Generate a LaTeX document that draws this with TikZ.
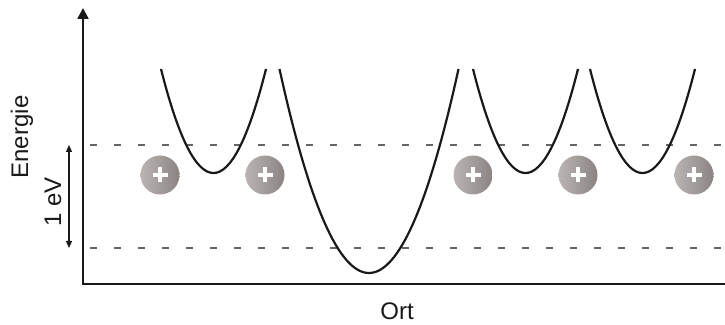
\documentclass[tikz,border=0pt]{standalone}
\usepackage{fontspec}
\setmainfont{Liberation Sans}
\usepackage{xcolor}
\usetikzlibrary{arrows.meta,positioning}

\definecolor{ionlight}{HTML}{BAB5B3}
\definecolor{iondark}{HTML}{8A8382}

\begin{document}
\begin{tikzpicture}[x=1pt, y=1pt,
  axis/.style={line width=2.5pt, black!90},
  level/.style={black!60, line width=1.1pt, dash pattern=on 7pt off 17pt},
  well/.style={line width=2.2pt, black!90},
  ion/.style={circle, minimum size=39pt, inner sep=0pt,
    left color=ionlight, right color=iondark},
  plus/.style={white, line width=4.8pt},
  lbl/.style={font=\fontsize{24}{28}\selectfont, text=black!90},
  arrow/.style={{Triangle[length=7pt,width=6pt]}-{Triangle[length=7pt,width=6pt]}, line width=1.2pt, black!90},
]
  \useasboundingbox (0,0) rectangle (725,324);

  % axes
  \coordinate (origin) at (83,40);
  \coordinate (ytip) at (83,316);
  \coordinate (xend) at (725,40);
  \draw[axis, {Triangle[length=11pt,width=11pt]}-] (ytip) -- (origin) -- (xend);

  % energy levels
  \coordinate (upL) at (90,179);
  \coordinate (upR) at (725,179);
  \coordinate (loL) at (90,76);
  \coordinate (loR) at (725,76);
  \draw[level] (upL) -- (upR);
  \draw[level] (loL) -- (loR);

  % potential wells
  \draw[well] (161,255) .. controls (196,116.3) and (231,116.3) .. (266,255);
  \draw[well] (279.5,255) .. controls (339.2,-17) and (398.8,-17) .. (458.5,255);
  \draw[well] (473,255) .. controls (508,116.3) and (543,116.3) .. (578,255);
  \draw[well] (590,255) .. controls (625,116.3) and (660,116.3) .. (695,255);

  % ions
  \node[ion] (ion1) at (160,149) {};
  \node[ion] (ion2) at (265,149) {};
  \node[ion] (ion3) at (473,149) {};
  \node[ion] (ion4) at (578,149) {};
  \node[ion] (ion5) at (694,149) {};
  \foreach \i in {1,...,5} {
    \draw[plus] ([xshift=-7.5pt]ion\i.center) -- ([xshift=7.5pt]ion\i.center);
    \draw[plus] ([yshift=-7.5pt]ion\i.center) -- ([yshift=7.5pt]ion\i.center);
  }

  % 1 eV
  \coordinate (evtop) at (69,179);
  \coordinate (evbot) at (69,76);
  \draw[arrow] (evtop) -- (evbot);

  % labels
  \node[lbl, rotate=90] (energie) at (22,187) {Energie};
  \node[lbl, rotate=90] (ev) at (53,122) {1 eV};
  \node[lbl] (ort) at (397,13) {Ort};
\end{tikzpicture}
\end{document}
